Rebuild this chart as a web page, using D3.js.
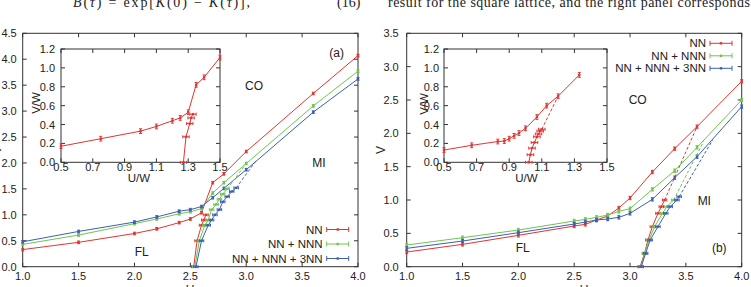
<!DOCTYPE html>
<html>
<head>
<meta charset="utf-8">
<script src="https://cdn.jsdelivr.net/npm/d3@7"></script>
<style>
  body { margin: 0; background: #fff; }
  svg { display: block; }
  text { font-family: "Liberation Sans", Arial, sans-serif; fill: #222; }
</style>
</head>
<body>
<svg id="chart" width="751" height="287"></svg>
<script>
// ---- data, panel (a): square lattice ----
const aU = [1.0, 1.5, 2.0, 2.2, 2.4, 2.5, 2.6, 2.7, 2.8, 3.0, 3.6, 4.0];
const aNN = [0.33, 0.47, 0.64, 0.73, 0.85, 0.92, 1.04, 1.62, 1.79, 2.22, 3.34, 4.07];
const aNNN = [0.43, 0.61, 0.83, 0.92, 1.02, 1.06, 1.12, 1.42, 1.62, 1.99, 3.10, 3.77];
const a3NN = [0.48, 0.68, 0.86, 0.96, 1.07, 1.10, 1.16, 1.33, 1.51, 1.87, 2.98, 3.62];

const aNNsteepU = [2.53, 2.56, 2.60, 2.62, 2.64];
const aNNsteepV = [0.0, 0.5, 0.8, 0.9, 1.0];
const aNNNsteepU = [2.54, 2.58, 2.63, 2.66, 2.69, 2.73, 2.76, 2.79, 2.83];
const aNNNsteepV = [0.0, 0.5, 0.8, 0.9, 1.1, 1.2, 1.3, 1.4, 1.5];
const a3NNsteepU = [2.55, 2.60, 2.66, 2.69, 2.72, 2.76, 2.79, 2.83, 2.87, 2.91];
const a3NNsteepV = [0.0, 0.5, 0.8, 0.9, 1.0, 1.1, 1.25, 1.35, 1.45, 1.52];
// dashed continuation to the CO boundary (end points)
const aNNNdashEnd = [3.0, 1.99];
const a3NNdashEnd = [3.09, 2.05];

const aInsetU = [0.5, 0.75, 1.0, 1.1, 1.2, 1.25, 1.3, 1.35, 1.4, 1.5];
const aInsetV = [0.17, 0.25, 0.33, 0.38, 0.44, 0.47, 0.53, 0.82, 0.90, 1.11];
const aInsetSteepU = [1.27, 1.286, 1.31, 1.318, 1.33];
const aInsetSteepV = [0.0, 0.27, 0.41, 0.47, 0.51];

// ---- data, panel (b) ----
const bU = [1.0, 1.5, 2.0, 2.5, 2.6, 2.7, 2.8, 2.9, 3.0, 3.2, 3.4, 3.6, 4.0];
const bNN = [0.22, 0.335, 0.47, 0.61, 0.635, 0.70, 0.76, 0.88, 1.03, 1.42, 1.77, 2.10, 2.78];
const bNNN = [0.325, 0.435, 0.55, 0.685, 0.71, 0.74, 0.775, 0.83, 0.87, 1.16, 1.44, 1.79, 2.50];
const b3NN = [0.275, 0.385, 0.51, 0.64, 0.67, 0.70, 0.715, 0.74, 0.80, 1.01, 1.335, 1.65, 2.40];

const bNNsteepU = [3.09, 3.13, 3.16, 3.20, 3.25, 3.28, 3.31];
const bNNsteepV = [0.0, 0.2, 0.4, 0.6, 0.8, 0.9, 1.0];
const bNNNsteepU = [3.10, 3.13, 3.17, 3.22, 3.29, 3.33, 3.39];
const bNNNsteepV = [0.0, 0.2, 0.4, 0.6, 0.8, 0.9, 1.0];
const b3NNsteepU = [3.10, 3.14, 3.18, 3.25, 3.32, 3.36, 3.42, 3.44];
const b3NNsteepV = [0.0, 0.2, 0.4, 0.6, 0.8, 0.9, 1.0, 1.05];
const bNNdashEnd = [3.6, 2.10];
const bNNNdashEnd = [3.66, 1.88];
const b3NNdashEnd = [3.74, 1.90];

const bInsetU = [0.5, 0.67, 0.83, 0.87, 0.9, 0.93, 0.96, 1.0, 1.07, 1.13, 1.2, 1.33];
const bInsetV = [0.13, 0.18, 0.22, 0.225, 0.25, 0.28, 0.31, 0.36, 0.48, 0.60, 0.70, 0.925];
const bInsetSteepU = [1.02, 1.03, 1.04, 1.055, 1.07, 1.08, 1.09, 1.10];
const bInsetSteepV = [0.0, 0.08, 0.15, 0.21, 0.27, 0.30, 0.33, 0.35];
const bInsetDashEnd = [1.2, 0.70];

const seriesNames = ['NN', 'NN + NNN', 'NN + NNN + 3NN'];
const seriesColors = ['#e03530', '#70c450', '#3d5fb5'];

const mainXTicks = [1.0, 1.5, 2.0, 2.5, 3.0, 3.5, 4.0];
const aYTicks = [0, 0.5, 1.0, 1.5, 2.0, 2.5, 3.0, 3.5, 4.0, 4.5];
const bYTicks = [0, 0.5, 1.0, 1.5, 2.0, 2.5, 3.0, 3.5];
const insetXTicks = [0.5, 0.7, 0.9, 1.1, 1.3, 1.5];
const insetYTicks = [0, 0.2, 0.4, 0.6, 0.8, 1.0, 1.2];

const vErr = 0.025, uErr = 0.02;

const svg = d3.select('#chart');
const axisColor = '#333';

function zip(us, vs) { return us.map((u, i) => [u, vs[i]]); }

function frame(g, x, y, xt, yt, tickLen, fmt, labelOpts) {
  const [x0, x1] = x.range(), [y1, y0] = y.range();
  g.append('rect').attr('x', x0).attr('y', y0).attr('width', x1 - x0).attr('height', y1 - y0)
    .attr('fill', '#fff').attr('stroke', axisColor).attr('stroke-width', 1);
  xt.forEach(t => {
    g.append('line').attr('x1', x(t)).attr('x2', x(t)).attr('y1', y1).attr('y2', y1 - tickLen).attr('stroke', axisColor);
    g.append('line').attr('x1', x(t)).attr('x2', x(t)).attr('y1', y0).attr('y2', y0 + tickLen).attr('stroke', axisColor);
    g.append('text').attr('x', x(t)).attr('y', labelOpts.xBase).attr('text-anchor', 'middle')
      .attr('font-size', labelOpts.size).text(fmt(t));
  });
  yt.forEach(t => {
    g.append('line').attr('x1', x0).attr('x2', x0 + tickLen).attr('y1', y(t)).attr('y2', y(t)).attr('stroke', axisColor);
    g.append('line').attr('x1', x1).attr('x2', x1 - tickLen).attr('y1', y(t)).attr('y2', y(t)).attr('stroke', axisColor);
    g.append('text').attr('x', x0 - labelOpts.yGap).attr('y', y(t) + 4).attr('text-anchor', 'end')
      .attr('font-size', labelOpts.size).text(fmt(t));
  });
}

function drawLine(g, x, y, pts, color, errDir, dashed) {
  const line = d3.line().x(d => x(d[0])).y(d => y(d[1]));
  g.append('path').attr('d', line(pts)).attr('fill', 'none').attr('stroke', color)
    .attr('stroke-width', 1).attr('stroke-dasharray', dashed ? '3,2' : null);
  if (!errDir) return;
  pts.forEach(p => {
    const cx = x(p[0]), cy = y(p[1]);
    if (errDir === 'v') {
      const ya = y(p[1] - vErr), yb = y(p[1] + vErr);
      g.append('line').attr('x1', cx).attr('x2', cx).attr('y1', ya).attr('y2', yb).attr('stroke', color);
      [ya, yb].forEach(yy => g.append('line').attr('x1', cx - 1.5).attr('x2', cx + 1.5).attr('y1', yy).attr('y2', yy).attr('stroke', color));
    } else {
      const xa = x(p[0] - uErr), xb = x(p[0] + uErr);
      g.append('line').attr('x1', xa).attr('x2', xb).attr('y1', cy).attr('y2', cy).attr('stroke', color);
      [xa, xb].forEach(xx => g.append('line').attr('x1', xx).attr('x2', xx).attr('y1', cy - 1.5).attr('y2', cy + 1.5).attr('stroke', color));
    }
    g.append('rect').attr('x', cx - 1.2).attr('y', cy - 1.2).attr('width', 2.4).attr('height', 2.4).attr('fill', color);
  });
}

function legend(g, xRight, y0, dy) {
  seriesNames.forEach((name, i) => {
    const yy = y0 + i * dy;
    g.append('text').attr('x', xRight).attr('y', yy + 4).attr('text-anchor', 'end')
      .attr('font-size', 11.5).text(name);
    const s0 = xRight + 4, s1 = xRight + 26, c = seriesColors[i];
    g.append('line').attr('x1', s0).attr('x2', s1).attr('y1', yy).attr('y2', yy).attr('stroke', c);
    [s0, s1].forEach(xx => g.append('line').attr('x1', xx).attr('x2', xx).attr('y1', yy - 2.5).attr('y2', yy + 2.5).attr('stroke', c));
    g.append('rect').attr('x', (s0 + s1) / 2 - 1.2).attr('y', yy - 1.2).attr('width', 2.4).attr('height', 2.4).attr('fill', c);
  });
}

function label(g, x, y, t, size) {
  g.append('text').attr('x', x).attr('y', y).attr('text-anchor', 'middle').attr('font-size', size || 12).text(t);
}

function rotLabel(g, x, y, t, size) {
  g.append('text').attr('transform', `translate(${x},${y}) rotate(-90)`).attr('text-anchor', 'middle')
    .attr('font-size', size || 12).text(t);
}

const f1 = d3.format('.1f');

// ---------- panel (a) ----------
{
  const g = svg.append('g');
  const x = d3.scaleLinear().domain([1, 4]).range([22.7, 358]);
  const y = d3.scaleLinear().domain([0, 4.5]).range([266.7, 33.3]);
  frame(g, x, y, mainXTicks, aYTicks, 4, f1, { xBase: 279.5, yGap: 6, size: 11 });

  const mains = [aNN, aNNN, a3NN];
  mains.forEach((vs, i) => drawLine(g, x, y, zip(aU, vs), seriesColors[i], 'v'));
  drawLine(g, x, y, [zip(aNNNsteepU, aNNNsteepV).slice(-1)[0], aNNNdashEnd], seriesColors[1], null, true);
  drawLine(g, x, y, [zip(a3NNsteepU, a3NNsteepV).slice(-1)[0], a3NNdashEnd], seriesColors[2], null, true);
  drawLine(g, x, y, zip(aNNsteepU, aNNsteepV), seriesColors[0], 'h');
  drawLine(g, x, y, zip(aNNNsteepU, aNNNsteepV), seriesColors[1], 'h');
  drawLine(g, x, y, zip(a3NNsteepU, a3NNsteepV), seriesColors[2], 'h');

  label(g, 336.7, 57, '(a)');
  label(g, 254, 90, 'CO');
  label(g, 319, 167, 'MI');
  label(g, 141.7, 256, 'FL');
  legend(g, 322.7, 229.5, 14.5);
  rotLabel(g, 1, 150, 'V');
  label(g, 190, 294, 'U');

  // inset
  const ix = d3.scaleLinear().domain([0.5, 1.5]).range([61, 220]);
  const iy = d3.scaleLinear().domain([0, 1.2]).range([162.3, 49]);
  frame(g, ix, iy, insetXTicks, insetYTicks, 4, f1, { xBase: 170.5, yGap: 6, size: 11 });
  drawLine(g, ix, iy, zip(aInsetU, aInsetV), seriesColors[0], 'v');
  drawLine(g, ix, iy, zip(aInsetSteepU, aInsetSteepV), seriesColors[0], 'h');
  rotLabel(g, 40, 103, 'V/W', 11.5);
  label(g, 139, 181.5, 'U/W', 11.5);
}

// ---------- panel (b) ----------
{
  const g = svg.append('g');
  const x = d3.scaleLinear().domain([1, 4]).range([406.7, 741.7]);
  const y = d3.scaleLinear().domain([0, 3.5]).range([266.7, 33.3]);
  frame(g, x, y, mainXTicks, bYTicks, 4, f1, { xBase: 279.5, yGap: 8, size: 11 });

  const mains = [bNN, bNNN, b3NN];
  mains.forEach((vs, i) => drawLine(g, x, y, zip(bU, vs), seriesColors[i], 'v'));
  const steeps = [[bNNsteepU, bNNsteepV, bNNdashEnd], [bNNNsteepU, bNNNsteepV, bNNNdashEnd], [b3NNsteepU, b3NNsteepV, b3NNdashEnd]];
  steeps.forEach(([us, vs, end], i) => {
    const pts = zip(us, vs);
    drawLine(g, x, y, [pts[pts.length - 1], end], seriesColors[i], null, true);
    drawLine(g, x, y, pts, seriesColors[i], 'h');
  });

  label(g, 719.3, 252, '(b)');
  label(g, 637.7, 104, 'CO');
  label(g, 704.3, 205, 'MI');
  label(g, 522.7, 252, 'FL');
  legend(g, 706, 43.3, 12.5);
  rotLabel(g, 385, 150, 'V');
  label(g, 584, 294, 'U');

  const ix = d3.scaleLinear().domain([0.5, 1.5]).range([444, 607]);
  const iy = d3.scaleLinear().domain([0, 1.2]).range([162.3, 49]);
  frame(g, ix, iy, insetXTicks, insetYTicks, 4, f1, { xBase: 170.5, yGap: 5, size: 11 });
  const sp = zip(bInsetSteepU, bInsetSteepV);
  drawLine(g, ix, iy, [sp[sp.length - 1], bInsetDashEnd], seriesColors[0], null, true);
  drawLine(g, ix, iy, zip(bInsetU, bInsetV), seriesColors[0], 'v');
  drawLine(g, ix, iy, sp, seriesColors[0], 'h');
  rotLabel(g, 428, 104, 'V/W', 11.5);
  label(g, 526.5, 181.5, 'U/W', 11.5);
}

// ---------- clipped running text above the figure ----------
const serif = '"Liberation Serif", "Times New Roman", serif';
const eq = svg.append('text').attr('x', 73).attr('y', 7).attr('font-size', 14).style('font-family', serif)
  .attr('textLength', 177).attr('lengthAdjust', 'spacing');
eq.append('tspan').attr('font-style', 'italic').text('B');
eq.append('tspan').text('(');
eq.append('tspan').attr('font-style', 'italic').text('τ');
eq.append('tspan').text(') = exp[');
eq.append('tspan').attr('font-style', 'italic').text('K');
eq.append('tspan').text('(0) − ');
eq.append('tspan').attr('font-style', 'italic').text('K');
eq.append('tspan').text('(');
eq.append('tspan').attr('font-style', 'italic').text('τ');
eq.append('tspan').text(')],');
svg.append('text').attr('x', 337).attr('y', 7).attr('font-size', 14).style('font-family', serif).text('(16)');
svg.append('text').attr('x', 388).attr('y', 7).attr('font-size', 14).style('font-family', serif)
  .attr('textLength', 362).attr('lengthAdjust', 'spacing')
  .text('result for the square lattice, and the right panel corresponds');
</script>
</body>
</html>
